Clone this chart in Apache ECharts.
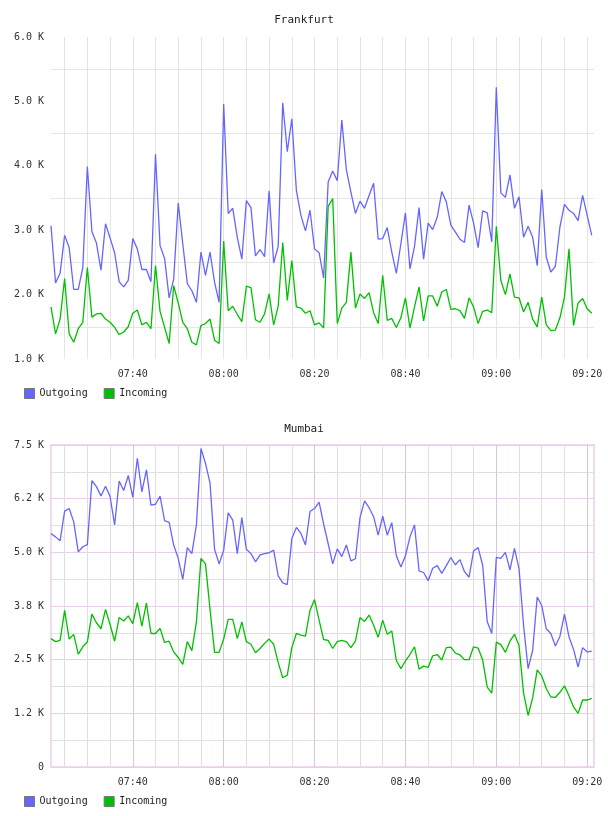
<!DOCTYPE html>
<html><head><meta charset="utf-8">
<script src="https://cdn.jsdelivr.net/npm/echarts@6/dist/echarts.min.js"></script>
<style>html,body{margin:0;padding:0;background:#fff}#c{width:608px;height:816px}</style>
</head><body><div id="c"></div>
<script>
// ---- data ----
const startTime = '07:22';          // first sample
const stepMinutes = 1;              // one sample per minute
const axisEndTime = '09:21:30';

const frankfurtOutgoing = [3070,2180,2330,2920,2730,2080,2080,2420,3990,2980,
  2800,2380,3100,2880,2650,2200,2120,2220,2870,2710,
  2390,2390,2200,4180,2760,2560,1950,2240,3420,2790,
  2170,2060,1880,2660,2300,2660,2190,1880,4960,3260,
  3340,2890,2550,3460,3350,2600,2700,2590,3610,2490,
  2750,4980,4220,4730,3620,3230,2990,3310,2710,2650,
  2260,3750,3920,3770,4710,3940,3590,3260,3450,3340,
  3540,3730,2860,2870,3040,2660,2330,2790,3270,2400,
  2750,3350,2550,3110,3010,3200,3600,3440,3080,2970,
  2860,2810,3390,3110,2730,3300,3270,2820,5220,3580,
  3510,3860,3340,3520,2890,3060,2890,2450,3630,2580,
  2350,2440,3050,3400,3310,3260,3150,3540,3230,2920];
const frankfurtIncoming = [1810,1390,1620,2250,1390,1260,1470,1570,2420,1650,
  1700,1710,1620,1570,1490,1380,1420,1500,1710,1760,
  1530,1570,1470,2450,1740,1490,1240,2140,1870,1570,
  1470,1260,1220,1520,1550,1620,1290,1240,2830,1750,
  1820,1690,1580,2130,2110,1610,1570,1700,2010,1530,
  1820,2810,1910,2530,1810,1790,1710,1750,1530,1560,
  1480,3370,3490,1550,1790,1880,2660,1790,2010,1940,
  2030,1720,1550,2300,1600,1630,1490,1640,1950,1480,
  1810,2120,1590,1980,1980,1820,2040,2080,1770,1780,
  1750,1630,1950,1810,1550,1740,1760,1720,3060,2220,
  2000,2320,1960,1950,1730,1880,1620,1500,1960,1530,
  1440,1450,1640,1960,2710,1520,1870,1940,1780,1710];
const mumbaiOutgoing = [5440,5360,5270,5960,6020,5710,5010,5130,5180,6670,
  6530,6310,6540,6300,5640,6660,6440,6790,6280,7190,
  6410,6920,6100,6120,6310,5740,5700,5170,4860,4370,
  5110,4970,5640,7420,7070,6610,5070,4730,5050,5920,
  5750,4970,5810,5070,4970,4780,4940,4970,4990,5050,
  4450,4290,4250,5320,5580,5440,5170,5950,6020,6170,
  5660,5200,4730,5080,4900,5170,4800,4850,5810,6200,
  6040,5830,5400,5840,5400,5690,4920,4660,4920,5360,
  5640,4570,4530,4340,4630,4690,4510,4690,4880,4710,
  4830,4550,4420,5030,5110,4700,3390,3110,4880,4860,
  5000,4590,5090,4620,3300,2290,2720,3960,3760,3220,
  3110,2820,3040,3560,3030,2740,2330,2780,2680,2700];
const mumbaiIncoming = [2990,2920,2950,3650,2980,3090,2630,2800,2910,3560,
  3360,3220,3670,3320,2930,3480,3400,3520,3340,3830,
  3280,3820,3110,3110,3230,2900,2930,2680,2550,2390,
  2920,2710,3380,4860,4730,3670,2670,2670,2980,3440,
  3440,2990,3380,2920,2860,2660,2760,2880,2980,2860,
  2430,2080,2140,2780,3110,3070,3050,3650,3900,3420,
  2970,2950,2760,2920,2950,2920,2780,2930,3480,3390,
  3540,3300,3020,3420,3090,3170,2480,2290,2470,2620,
  2800,2280,2350,2320,2590,2620,2490,2780,2790,2650,
  2610,2500,2500,2800,2770,2490,1860,1720,2910,2850,
  2670,2930,3090,2830,1720,1200,1610,2260,2120,1830,
  1630,1620,1740,1890,1660,1400,1250,1560,1560,1600];

const frankfurtTickLabels = ['1.0 K','2.0 K','3.0 K','4.0 K','5.0 K','6.0 K'];
const mumbaiTickLabels = ['0','1.2 K','2.5 K','3.8 K','5.0 K','6.2 K','7.5 K'];
const seriesNames = ['Outgoing','Incoming'];
const titles = ['Frankfurt','Mumbai'];

// ---- helpers ----
function toMin(t){ const p=t.split(':').map(Number); return p[0]*60+p[1]+(p[2]||0)/60; }
const t0 = toMin(startTime), tEnd = toMin(axisEndTime);
function pairs(arr){ return arr.map((v,i)=>[t0+i*stepMinutes, v]); }
function fmtTime(v){ if (Math.abs(v%20)>1e-6) return ''; const h=Math.floor(v/60), m=Math.round(v%60); return String(h).padStart(2,'0')+':'+String(m).padStart(2,'0'); }

const FONT = 'DejaVu Sans Mono';
const BLUE = '#6666ff', GREEN = '#00c000';
const txt = {fontFamily: FONT, fontSize: 10, color: '#333'};

function timeAxis(grid, extra){
  return Object.assign({
    type:'value', gridIndex:grid, min:t0, max:tEnd, splitNumber:24,
    minInterval:5, maxInterval:5,
    axisLine:{show:false}, axisTick:{show:false},
    axisLabel:Object.assign({formatter:fmtTime, margin:10, showMinLabel:true, showMaxLabel:true}, txt),
    splitLine:{show:true, showMinLine:false, showMaxLine:false, lineStyle:{color:'#e4e4e4', width:1}}
  }, extra||{});
}

const chart = echarts.init(document.getElementById('c'), null, {renderer:'canvas'});
chart.setOption({
  animation:false,
  backgroundColor:'#fff',
  title:[
    {text:titles[0], left:'center', top:15, padding:0, textStyle:{fontFamily:FONT, fontSize:11, fontWeight:'normal', color:'#222'}},
    {text:titles[1], left:'center', top:424, padding:0, textStyle:{fontFamily:FONT, fontSize:11, fontWeight:'normal', color:'#222'}}
  ],
  legend:[
    {left:24, top:388, padding:0, itemWidth:10, itemHeight:10, itemGap:16, icon:'rect',
     data:seriesNames.map(n=>({name:n, itemStyle:{borderColor:'#777', borderWidth:1}})),
     textStyle:Object.assign({}, txt, {color:'#222'})},
    {left:24, top:796, padding:0, itemWidth:10, itemHeight:10, itemGap:16, icon:'rect',
     data:seriesNames.map(n=>({name:n, itemStyle:{borderColor:'#777', borderWidth:1}})),
     textStyle:Object.assign({}, txt, {color:'#222'})}
  ],
  grid:[
    {left:51, right:14, top:37, height:322},
    {left:51, right:14, top:445, height:322, show:true, borderColor:'#eddced', borderWidth:2, backgroundColor:'transparent'}
  ],
  xAxis:[
    timeAxis(0),
    timeAxis(1, {splitLine:{show:true, showMinLine:false, showMaxLine:false, lineStyle:{color:'#e2dde2', width:1}}}),
    timeAxis(1, {minInterval:20, maxInterval:20, splitNumber:6, axisLabel:{show:false},
      splitLine:{show:true, showMinLine:false, showMaxLine:false, lineStyle:{color:'#dcc4dc', width:1}}})
  ],
  yAxis:[
    {type:'value', gridIndex:0, min:1000, max:6000, interval:1000,
     axisLine:{show:false}, axisTick:{show:false},
     axisLabel:Object.assign({margin:7, formatter:(v)=>frankfurtTickLabels[Math.round((v-1000)/1000)]}, txt),
     splitLine:{show:false},
     minorTick:{show:false, splitNumber:2},
     minorSplitLine:{show:true, lineStyle:{color:'#e6e6e6', width:1}}},
    {type:'value', gridIndex:1, min:0, max:7500, interval:1250,
     axisLine:{show:false}, axisTick:{show:false},
     axisLabel:Object.assign({margin:7, formatter:(v)=>mumbaiTickLabels[Math.round(v/1250)]}, txt),
     splitLine:{show:true, lineStyle:{color:'#e8d0e8', width:1}},
     minorTick:{show:false, splitNumber:2},
     minorSplitLine:{show:true, lineStyle:{color:'#e0e0e0', width:1}}}
  ],
  series:[
    {name:seriesNames[0], type:'line', xAxisIndex:0, yAxisIndex:0, data:pairs(frankfurtOutgoing), showSymbol:false, symbol:'none', lineStyle:{color:BLUE, width:1.3}, itemStyle:{color:BLUE}},
    {name:seriesNames[1], type:'line', xAxisIndex:0, yAxisIndex:0, data:pairs(frankfurtIncoming), showSymbol:false, symbol:'none', lineStyle:{color:GREEN, width:1.3}, itemStyle:{color:GREEN}},
    {name:seriesNames[0], type:'line', xAxisIndex:1, yAxisIndex:1, data:pairs(mumbaiOutgoing), showSymbol:false, symbol:'none', lineStyle:{color:BLUE, width:1.3}, itemStyle:{color:BLUE}},
    {name:seriesNames[1], type:'line', xAxisIndex:1, yAxisIndex:1, data:pairs(mumbaiIncoming), showSymbol:false, symbol:'none', lineStyle:{color:GREEN, width:1.3}, itemStyle:{color:GREEN}}
  ]
});
</script></body></html>
